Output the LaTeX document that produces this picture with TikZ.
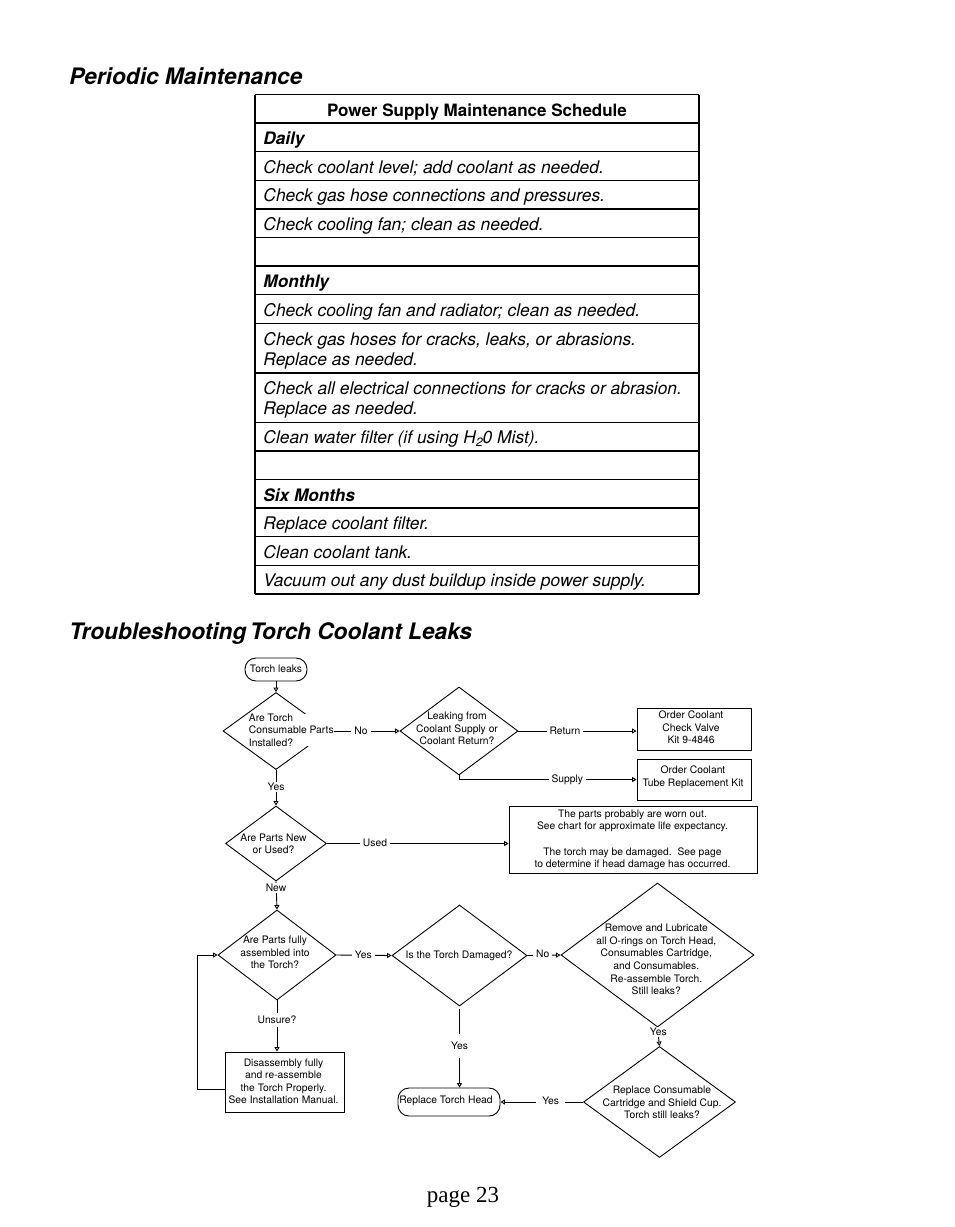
\documentclass[tikz,border=0pt]{standalone}
\usepackage{fontspec}
\setmainfont{TeX Gyre Heros}
\newfontfamily\pagefont{Liberation Serif}
\usetikzlibrary{arrows.meta,shapes.geometric}
\begin{document}
\begin{tikzpicture}[x=1pt,y=-1pt, line width=0.9pt,
  tip/.style={-{Triangle[open,length=4.5pt,width=5pt]}},
  ft/.style={font=\fontsize{10.3}{12.6}\selectfont, align=center, inner sep=0pt},
  lab/.style={ft, fill=white, inner xsep=3pt, inner ysep=1pt},
  dia/.style={draw, diamond, inner sep=0pt},
  box/.style={draw, rectangle, inner sep=0pt},
  term/.style={draw, rectangle, rounded corners=11pt, inner sep=0pt},
  cell/.style={font=\fontsize{17.4}{20}\selectfont\itshape, anchor=base west, inner sep=0pt},
  cellb/.style={font=\fontsize{17.2}{20}\selectfont\bfseries\itshape, anchor=base west, inner sep=0pt},
  cellm/.style={font=\fontsize{17.4}{20}\selectfont\itshape, anchor=north west, align=left, inner sep=0pt},
  hline/.style={line width=1.5pt},
  head/.style={font=\fontsize{22.7}{27}\selectfont\bfseries\itshape, anchor=base west, inner sep=0pt}
]
\useasboundingbox (0,0) rectangle (954,1227);

% ---------- headings ----------
\node[head] (h1) at (69,84) {Periodic Maintenance};
\node[head] (h2) at (69,639) {Troubleshooting\,Torch Coolant Leaks};
\node[font=\fontsize{23}{27}\pagefont, anchor=base, inner sep=0pt] (pg) at (463,1202) {page 23};

% ---------- table ----------
\foreach \y in {94.5,123.1,151.7,180.3,208.9,237.5,266.1,294.7,323.3,372.8,422.3,450.9,479.5,508.1,536.7,565.3,593.9}
  \draw[hline] (255,\y) -- (699,\y);
\draw[line width=1.1pt] (255,94.5) -- (255,593.9);
\draw[line width=1.1pt] (699,94.5) -- (699,593.9);

\node[font=\fontsize{17}{20}\selectfont\bfseries, anchor=base, inner sep=0pt] (th) at (477,116) {Power Supply Maintenance Schedule};
\node[cellb] (r1) at (263,144.6) {Daily};
\node[cell] (r2) at (263,173.2) {Check coolant level; add coolant as needed.};
\node[cell] (r3) at (263,201.8) {Check gas hose connections and pressures.};
\node[cell] (r4) at (263,230.4) {Check cooling fan; clean as needed.};
\node[cellb] (r5) at (263,287.6) {Monthly};
\node[cell] (r6) at (263,316.2) {Check cooling fan and radiator; clean as needed.};
\node[cellm] (r7) at (263,332.5) {Check gas hoses for cracks, leaks, or abrasions.\\Replace as needed.};
\node[cellm] (r8) at (263,381.5) {Check all electrical connections for cracks or abrasion.\\Replace as needed.};
\node[cell] (r9) at (263,443.8) {Clean water filter (if using H\raisebox{-0.35ex}{\fontsize{12}{12}\selectfont 2}0 Mist).};
\node[cellb] (r10) at (263,501) {Six Months};
\node[cell] (r11) at (263,529.6) {Replace coolant filter.};
\node[cell] (r12) at (263,558.2) {Clean coolant tank.};
\node[cell] (r13) at (263,586.8) {Vacuum out any dust buildup inside power supply.};

% ---------- flowchart shapes ----------
\node[term, minimum width=62pt, minimum height=23pt] (start) at (276,669.5) {};
\node[ft] (startt) at (276,669.3) {Torch leaks};

\node[dia, minimum width=106pt, minimum height=77pt] (d1) at (276,731) {};

\node[dia, minimum width=118pt, minimum height=88pt] (d2) at (459,731) {};
\node[ft] (d2t) at (457,728.7) {Leaking from\\Coolant Supply or\\Coolant Return?};

\node[box, minimum width=114pt, minimum height=42pt] (b1) at (694,729) {};
\node[ft] (b1t) at (691,727.5) {Order Coolant\\Check Valve\\Kit 9-4846};

\node[box, minimum width=114pt, minimum height=41pt] (b2) at (694,779.5) {};
\node[ft] (b2t) at (693,777) {Order Coolant\\Tube Replacement Kit};

\node[dia, minimum width=101pt, minimum height=75pt] (d3) at (276,843.5) {};
\node[ft] (d3t) at (273.5,843.7) {Are Parts New\\or Used?};

\node[box, minimum width=248pt, minimum height=67pt] (b3) at (633,839.5) {};
\draw[line width=1.8pt] (b3.north east) -- (b3.south east) -- (b3.south west);
\node[ft] (b3t) at (632.5,839.8) {The parts probably are worn out.\\See chart for approximate life expectancy.\\[12.6pt]The torch may be damaged.\ \ See page\\to determine if head damage has occurred.};

\node[dia, minimum width=118pt, minimum height=90pt] (d4) at (277,955) {};
\node[ft] (d4t) at (275,952.5) {Are Parts fully\\assembled into\\the Torch?};

\node[dia, minimum width=135pt, minimum height=101pt] (d5) at (459.5,955.5) {};
\node[ft] (d5t) at (459,956) {Is the Torch Damaged?};

\node[dia, minimum width=193pt, minimum height=144pt] (d6) at (657.5,955) {};
\node[ft] (d6t) at (656.3,959.5) {Remove and Lubricate\\all O-rings on Torch Head,\\Consumables Cartridge,\\and Consumables.\\Re-assemble Torch.\\Still leaks?};

\node[dia, minimum width=152pt, minimum height=111pt] (d7) at (659.5,1102) {};
\node[ft] (d7t) at (662,1102.5) {Replace Consumable\\Cartridge and Shield Cup.\\Torch still leaks?};

\node[box, minimum width=119pt, minimum height=60pt] (b4) at (284.5,1082) {};
\node[ft] (b4t) at (283.5,1081.3) {Disassembly fully\\and re-assemble\\the Torch Properly.\\See Installation Manual.};

\node[term, minimum width=102pt, minimum height=28pt] (end) at (449,1102) {};
\node[ft] (endt) at (446,1101) {Replace Torch Head};

% ---------- connectors ----------
\coordinate (fb) at (197,1089);
\draw[tip] (start) -- (d1);
\draw[tip] (d1.east) -- (d2.west);
\draw[tip] (d2.east) -- (d2.east -| b1.west);
\draw[tip] (d2.south) |- (b2.west);
\draw[tip] (d1.south) -- (d3.north);
\draw[tip] (d3.east) -- (d3.east -| b3.west);
\draw[tip] (d3.south) -- (d4.north);
\draw[tip] (d4.east) -- (d5.west);
\draw[tip] (d5.east) -- (d6.west);
\draw[tip] ([yshift=-3pt]d5.south) -- (d5.south |- end.north);
\draw[tip] (d6.south) -- (d7.north);
\draw[tip] (d7.west) -- (d7.west -| end.east);
\draw[tip] (d4.south) -- (d4.south |- b4.north);
\draw[tip] (b4.west |- fb) -- (fb) |- (d4.west);

% text of the first decision, over its outline
\node[ft, align=left, anchor=west, fill=white, inner xsep=0.5pt, inner ysep=0pt] (d1t) at (248,730) {Are Torch\\Consumable Parts\\Installed?};

% ---------- connector labels ----------
\node[lab] (lno1) at (361,731) {No};
\node[lab] (lret) at (565,730.7) {Return};
\node[lab] (lsup) at (567.3,779.3) {Supply};
\node[lab] (lyes1) at (276,787.3) {Yes};
\node[lab] (lused) at (375,842.7) {Used};
\node[lab] (lnew) at (276,888.3) {New};
\node[lab] (lyes2) at (363.3,954.7) {Yes};
\node[lab] (lno2) at (542.7,954) {No};
\node[lab, inner ysep=3pt] (lunsure) at (277,1020) {Unsure?};
\node[lab, inner ysep=8pt] (lyes3) at (459.5,1045.7) {Yes};
\node[lab] (lyes4) at (658.3,1031.7) {Yes};
\node[lab, inner xsep=6pt] (lyes5) at (550.7,1101) {Yes};
\end{tikzpicture}
\end{document}
